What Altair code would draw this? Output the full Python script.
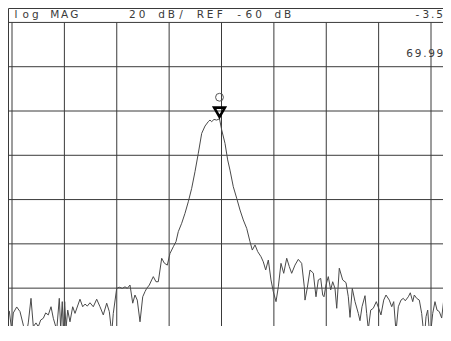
import altair as alt
import pandas as pd

# ---- data (x in graticule divisions, y in dB) ----
trace_div = [-0.090, -0.052, -0.006, 0.025, 0.090, 0.153, 0.216, 0.267, 0.311, 0.363,
             0.407, 0.458, 0.502, 0.548, 0.598, 0.643, 0.693, 0.745, 0.789, 0.854,
             0.903, 0.930, 0.960, 0.980, 1.006, 1.031, 1.064, 1.107, 1.159, 1.203,
             1.298, 1.350, 1.394, 1.438, 1.489, 1.552, 1.617, 1.680, 1.743, 1.808,
             1.858, 1.904, 1.934, 1.999, 2.049, 2.106, 2.158, 2.201, 2.253, 2.305,
             2.348, 2.392, 2.444, 2.496, 2.539, 2.572, 2.622, 2.667, 2.698, 2.749,
             2.793, 2.858, 2.908, 2.965, 3.017, 3.080, 3.131, 3.175, 3.240, 3.303,
             3.366, 3.431, 3.494, 3.557, 3.622, 3.685, 3.748, 3.780, 3.813, 3.857,
             3.908, 3.962, 4.004, 4.067, 4.118, 4.162, 4.225, 4.290, 4.353, 4.416,
             4.481, 4.544, 4.588, 4.640, 4.691, 4.754, 4.798, 4.844, 4.894, 4.945,
             4.989, 5.041, 5.085, 5.136, 5.188, 5.245, 5.295, 5.340, 5.403, 5.466,
             5.531, 5.581, 5.594, 5.638, 5.690, 5.753, 5.804, 5.848, 5.894, 5.932,
             5.957, 5.995, 6.039, 6.085, 6.123, 6.167, 6.200, 6.249, 6.314, 6.377,
             6.421, 6.454, 6.497, 6.549, 6.612, 6.644, 6.683, 6.740, 6.772, 6.803,
             6.849, 6.898, 6.956, 7.013, 7.045, 7.097, 7.141, 7.204, 7.250, 7.288,
             7.332, 7.376, 7.427, 7.471, 7.509, 7.567, 7.605, 7.651, 7.681, 7.727,
             7.777, 7.822, 7.872, 7.905, 7.937, 7.981, 8.033, 8.076, 8.115, 8.159,
             8.204, 8.254, 8.306, 8.349, 8.382]

trace_db = [-91.4, -90.3, -98.9, -91.2, -88.5, -90.6, -96.7, -101.6, -95.7, -84.6,
            -97.4, -95.7, -97.4, -94.4, -93.6, -91.2, -92.1, -88.4, -93.6, -98.9,
            -84.6, -98.1, -86.1, -99.7, -86.1, -98.1, -89.9, -95.2, -88.4, -91.4,
            -85.0, -88.4, -87.2, -88.1, -86.6, -88.4, -85.0, -88.4, -92.1, -86.8,
            -90.6, -100.4, -91.4, -80.1, -79.6, -80.1, -79.4, -80.1, -78.6, -86.8,
            -83.1, -85.4, -95.2, -83.9, -81.6, -80.1, -78.6, -76.3, -74.8, -77.1,
            -77.1, -66.5, -68.7, -69.6, -64.3, -61.3, -59.0, -54.5, -50.7, -46.2,
            -41.0, -34.9, -27.4, -19.1, -10.1, -6.8, -4.8, -4.1, -4.8, -3.8,
            -4.1, -3.5, -8.6, -14.6, -22.1, -26.7, -34.2, -39.4, -44.7, -49.2,
            -53.0, -59.0, -62.8, -60.5, -63.5, -65.8, -68.1, -71.8, -67.3, -76.3,
            -81.6, -86.1, -79.4, -68.8, -73.3, -66.5, -70.3, -73.3, -69.6, -67.0,
            -68.8, -79.4, -85.4, -79.9, -71.8, -73.2, -83.9, -76.3, -75.6, -83.1,
            -83.9, -78.6, -74.8, -80.8, -77.1, -80.1, -89.1, -71.0, -76.3, -77.5,
            -83.9, -93.2, -80.1, -86.1, -91.4, -94.7, -88.4, -83.4, -91.4, -98.6,
            -89.9, -89.1, -86.1, -89.9, -92.1, -85.4, -83.1, -85.4, -88.4, -86.1,
            -99.7, -88.4, -85.4, -84.6, -85.7, -83.9, -82.1, -86.1, -83.1, -84.6,
            -85.4, -91.4, -103.0, -92.9, -89.9, -103.0, -91.4, -86.1, -89.9, -90.6,
            -93.5, -83.1, -84.6, -86.8, -85.4]

grid_div = [0, 1, 2, 3, 4, 5, 6, 7, 8]
grid_db = [40, 20, 0, -20, -40, -60, -80, -100]

header_text = "log MAG     20 dB/ REF -60 dB"
marker_value_text = "-3.5"
marker_freq_text = "69.99"
marker_div = [3.962]
marker_db = [-3.5]

assert len(trace_div) == len(trace_db)

# ---- layout ----
W, H = 435, 318
PX_PER_DIV = 52.375
PX_PER_DB = 2.2143
X0_PX = 4.0      # chart pixel of division 0
Y0_PX = 103.0    # chart pixel of 0 dB
x_dom = [(0 - X0_PX) / PX_PER_DIV, (W - X0_PX) / PX_PER_DIV]
y_dom = [(Y0_PX - H) / PX_PER_DB, Y0_PX / PX_PER_DB]


def px_to_div(px):
    return (px - X0_PX) / PX_PER_DIV


def py_to_db(py):
    return (Y0_PX - py) / PX_PER_DB


xs = alt.Scale(domain=x_dom, nice=False, zero=False)
ys = alt.Scale(domain=y_dom, nice=False, zero=False)

INK = "#3a3a3a"


def char_rows(text, left_px, base_px, pitch):
    """Monospace-like layout: each glyph centred in its own cell."""
    rows = []
    x = left_px
    for ch in text:
        cw = pitch * (0.6 if ch == "." else 1.0)
        if ch != " ":
            rows.append({"c": ch, "x": px_to_div(x + cw / 2), "y": py_to_db(base_px)})
        x += cw
    return rows


text_rows = (char_rows(header_text, 3.2, 10.3, 9.7)
             + char_rows(marker_value_text, 405.0, 10.3, 8.6)
             + char_rows(marker_freq_text, 397.5, 48.7, 8.4))
text_df = pd.DataFrame(text_rows)

trace_df = pd.DataFrame({"div": trace_div, "db": trace_db})
vgrid_df = pd.DataFrame({"div": grid_div})
hgrid_df = pd.DataFrame({"db": grid_db})
marker_df = pd.DataFrame({"div": marker_div, "db": marker_db})

TOP_GRID_PX = Y0_PX - 40 * PX_PER_DB

vgrid = alt.Chart(vgrid_df).mark_rule(color=INK, strokeWidth=1).encode(
    x=alt.X("div:Q", scale=xs, axis=None),
    y=alt.value(TOP_GRID_PX),
    y2=alt.value(H),
)

hgrid = alt.Chart(hgrid_df).mark_rule(color=INK, strokeWidth=1).encode(
    y=alt.Y("db:Q", scale=ys, axis=None),
    x=alt.value(0.5),
    x2=alt.value(W),
)

frame = alt.Chart(pd.DataFrame({"k": [0]})).mark_rule(color=INK, strokeWidth=1).encode(
    x=alt.value(0.5), x2=alt.value(0.5), y=alt.value(0.5), y2=alt.value(H)
)
top_line = alt.Chart(pd.DataFrame({"k": [0]})).mark_rule(color=INK, strokeWidth=1).encode(
    x=alt.value(0.5), x2=alt.value(W), y=alt.value(0.5)
)

trace = alt.Chart(trace_df).mark_line(color="#4a4a4a", strokeWidth=1, clip=True).encode(
    x=alt.X("div:Q", scale=xs, axis=None),
    y=alt.Y("db:Q", scale=ys, axis=None),
    order=alt.Order("div:Q"),
)

tri = alt.Chart(marker_df).mark_point(
    shape="triangle-down", filled=False, color="black", strokeWidth=2.6,
    size=115, yOffset=-6.5, opacity=1,
).encode(
    x=alt.X("div:Q", scale=xs, axis=None),
    y=alt.Y("db:Q", scale=ys, axis=None),
)

circ = alt.Chart(marker_df).mark_point(
    shape="circle", filled=False, color="#555555", strokeWidth=1,
    size=62, yOffset=-21.5, opacity=1,
).encode(
    x=alt.X("div:Q", scale=xs, axis=None),
    y=alt.Y("db:Q", scale=ys, axis=None),
)

texts = alt.Chart(text_df).mark_text(
    align="center", baseline="alphabetic", font="DejaVu Sans", fontSize=10.5,
    color="#3a3a3a",
).encode(
    x=alt.X("x:Q", scale=xs, axis=None),
    y=alt.Y("y:Q", scale=ys, axis=None),
    text="c:N",
)

chart = alt.layer(
    vgrid, hgrid, frame, top_line, trace, circ, tri, texts
).properties(
    width=W, height=H, padding=0,
    autosize=alt.AutoSizeParams(type="none"),
    background="white",
).configure_view(stroke=None)

chart.save("out.html", embed_options={"renderer": "svg", "actions": False})
